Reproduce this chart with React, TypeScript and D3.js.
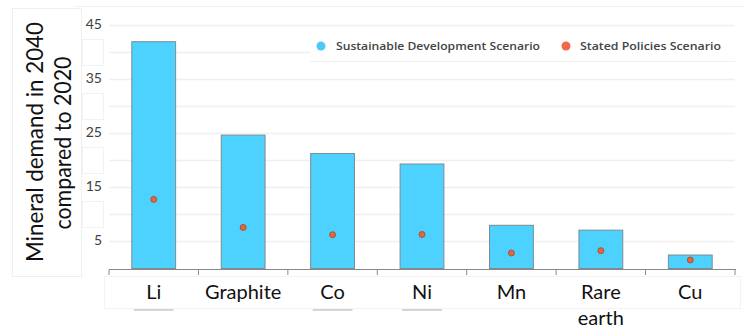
import React from "react";
import * as d3 from "d3";

const categories: string[][] = [["Li"], ["Graphite"], ["Co"], ["Ni"], ["Mn"], ["Rare", "earth"], ["Cu"]];
const sdsValues: number[] = [42.0, 24.7, 21.3, 19.35, 8.0, 7.1, 2.5];
const stepsValues: number[] = [12.8, 7.6, 6.26, 6.3, 2.87, 3.3, 1.57];
const yTickLabels: number[] = [5, 15, 25, 35, 45];
const gridValues: number[] = [5, 10, 15, 20, 25, 30, 35, 40, 45];
const hiddenTicks: number[] = [10, 20, 30, 40];
const underlined: string[] = ["Li", "Co", "Ni"];
const legendItems: string[] = ["Sustainable Development Scenario", "Stated Policies Scenario"];

const W = 744;
const H = 333;
const BAR = "#4dd2ff";
const BAR_STROKE = "#7d8b92";
const DOT = "#e8643a";
const DOT_STROKE = "#9a4a2e";
const SERIF_LIKE = "Lato, 'Open Sans', sans-serif";

export default function App() {
  const keys = categories.map((c) => c.join(" "));
  const x = d3.scaleBand<string>().domain(keys).range([109, 735]).paddingInner(0.51).paddingOuter(0.255);
  const y = d3.scaleLinear().domain([0, 45]).range([268.5, 25.5]);
  const step = x.step();
  const bw = x.bandwidth();
  const base = y(0);

  return (
    <svg width={W} height={H} style={{ position: "absolute", left: 0, top: 0, background: "#fff" }}>
      <rect x={0} y={0} width={W} height={H} fill="#fff" />
      <line x1={75} x2={W} y1={6.5} y2={6.5} stroke="#f0f0f0" />
      {gridValues.map((v) => (
        <line key={v} x1={109} x2={735} y1={y(v)} y2={y(v)} stroke="#efefef" strokeWidth={1.5} />
      ))}
      <rect x={310} y={30} width={425} height={31} fill="#fff" />
      <line x1={310} x2={735} y1={61.5} y2={61.5} stroke="#f0f0f0" />
      {keys.map((k, i) => (
        <rect key={k} x={x(k)!} y={y(sdsValues[i])} width={bw} height={base - y(sdsValues[i])}
          fill={BAR} stroke={BAR_STROKE} strokeWidth={1} />
      ))}
      {keys.map((k, i) => (
        <circle key={k} cx={x(k)! + bw / 2} cy={y(stepsValues[i])} r={3} fill={DOT} stroke={DOT_STROKE} strokeWidth={0.8} />
      ))}
      <line x1={109} x2={736} y1={269.5} y2={269.5} stroke="#888" strokeWidth={1} />
      {d3.range(keys.length + 1).map((i) => (
        <line key={i} x1={109 + i * step} x2={109 + i * step} y1={269.5} y2={275} stroke="#888" />
      ))}
      <rect x={12.5} y={8.5} width={69} height={268} fill="#fff" stroke="#efefef" />
      <g transform="translate(43,142) rotate(-90)">
        <text textAnchor="middle" fontFamily={SERIF_LIKE} fontSize={24} fill="#111" textLength={240} lengthAdjust="spacingAndGlyphs">Mineral demand in 2040</text>
      </g>
      <g transform="translate(71,143) rotate(-90)">
        <text textAnchor="middle" fontFamily={SERIF_LIKE} fontSize={24} fill="#111" textLength={173} lengthAdjust="spacingAndGlyphs">compared to 2020</text>
      </g>
      {hiddenTicks.map((v) => (
        <rect key={v} x={82.5} y={y(v) - 13} width={21} height={26} fill="#fff" stroke="#f2f2f2" />
      ))}
      {yTickLabels.map((v) => (
        <text key={v} x={102} y={y(v) + 3} textAnchor="end" fontFamily={SERIF_LIKE} fontSize={14} fill="#404040">{v}</text>
      ))}
      <rect x={104.5} y={276.5} width={636} height={32} fill="none" stroke="#f3f3f3" />
      {categories.map((lines, i) => (
        <text key={keys[i]} x={x(keys[i])! + bw / 2} y={299} textAnchor="middle" fontFamily={SERIF_LIKE} fontSize={20} fill="#111">
          {lines.map((ln, j) => (
            <tspan key={j} x={x(keys[i])! + bw / 2} dy={j === 0 ? 0 : 26}>{ln}</tspan>
          ))}
        </text>
      ))}
      {keys.filter((k) => underlined.includes(k)).map((k) => (
        <line key={k} x1={x(k)! + 2} x2={x(k)! + bw - 2} y1={310} y2={310} stroke="#aaa" />
      ))}
      <circle cx={321} cy={46} r={4.5} fill="#4cc9f7" />
      <text x={336} y={50} fontFamily="'Open Sans', sans-serif" fontWeight={600} fontSize={11.5} fill="#444" textLength={204} lengthAdjust="spacingAndGlyphs">{legendItems[0]}</text>
      <circle cx={566} cy={46} r={4.5} fill="#f0694a" />
      <text x={580} y={50} fontFamily="'Open Sans', sans-serif" fontWeight={600} fontSize={11.5} fill="#444" textLength={141} lengthAdjust="spacingAndGlyphs">{legendItems[1]}</text>
    </svg>
  );
}
